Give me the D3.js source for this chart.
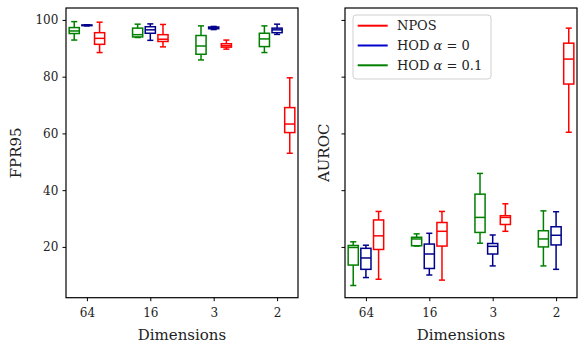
<!DOCTYPE html>
<html>
<head>
<meta charset="utf-8">
<script src="https://cdn.jsdelivr.net/npm/d3@7"></script>
<style>
  body { margin: 0; background: #fff; }
  svg { font-family: 'DejaVu Serif', serif; }
</style>
</head>
<body>
<svg id="chart" width="578" height="343"></svg>
<script>
// categories / series
const dims = ['64', '16', '3', '2']
const methods = ['HOD α=0.1', 'HOD α=0', 'NPOS']
const methodColors = ['#008000', '#00008b', '#ff0000']
const methodOffsets = [-0.2, 0, 0.2]

// box stats per dimension: [lowWhisker, q1, median, q3, highWhisker]
const fprHod01 = [[92.9, 95.2, 96.1, 97.3, 99.4], [93.8, 94.0, 94.8, 97.1, 98.5], [85.9, 87.9, 90.8, 94.5, 97.9], [88.5, 90.6, 93.3, 95.3, 97.9]]
const fprHod0 = [[97.9, 98.0, 98.1, 98.2, 98.3], [92.8, 95.3, 96.5, 97.6, 98.6], [96.6, 96.9, 97.2, 97.5, 97.7], [94.9, 95.5, 96.5, 97.1, 98.5]]
const fprNpos = [[88.5, 91.4, 93.5, 95.5, 99.2], [90.5, 92.4, 93.2, 94.8, 98.4], [89.7, 90.4, 90.9, 91.6, 92.9], [53.0, 60.3, 63.3, 69.1, 79.6]]

const aurocHod01 = [[6.4, 13.6, 19.8, 20.5, 21.8], [20.3, 20.4, 22.8, 23.4, 24.6], [21.3, 25.1, 30.4, 38.6, 45.9], [13.3, 20.0, 22.8, 25.7, 32.7]]
const aurocHod0 = [[9.2, 12.1, 16.1, 19.5, 20.6], [10.1, 12.4, 17.5, 21.0, 24.8], [13.3, 17.5, 20.2, 21.2, 24.2], [12.1, 20.7, 24.1, 27.1, 32.4]]
const aurocNpos = [[8.6, 19.1, 23.9, 29.5, 32.5], [8.3, 20.3, 25.5, 28.6, 32.5], [25.5, 27.9, 30.4, 31.0, 35.2], [60.4, 77.4, 86.2, 91.8, 97.1]]

const yTicks = [20, 40, 60, 80, 100]
const legendLabels = ['NPOS', 'HOD α = 0', 'HOD α = 0.1']
const legendColors = ['#ff0000', '#0000cc', '#008000']

const svg = d3.select('#chart')
const plotTop = 8
const plotBottom = 297.7

let y = d3.scaleLinear().domain([2.1, 104.2]).range([plotBottom, plotTop])

function panel (left, right, series, ylabel, showTickLabels) {
  let x = d3.scaleLinear().domain([0.67, 4.33]).range([left, right])
  let g = svg.append('g')

  // boxes
  series.forEach((s, mi) => {
    let col = methodColors[mi]
    s.forEach((st, i) => {
      let cx = x(i + 1 + methodOffsets[mi])
      let bw = x(0.16) - x(0)
      let cw = bw * 0.6
      let bg = g.append('g').attr('stroke', col).attr('stroke-width', 1.5).attr('fill', 'none')
      bg.append('line').attr('x1', cx).attr('x2', cx).attr('y1', y(st[0])).attr('y2', y(st[1]))
      bg.append('line').attr('x1', cx).attr('x2', cx).attr('y1', y(st[3])).attr('y2', y(st[4]))
      bg.append('line').attr('x1', cx - cw / 2).attr('x2', cx + cw / 2).attr('y1', y(st[0])).attr('y2', y(st[0]))
      bg.append('line').attr('x1', cx - cw / 2).attr('x2', cx + cw / 2).attr('y1', y(st[4])).attr('y2', y(st[4]))
      bg.append('rect').attr('x', cx - bw / 2).attr('width', bw)
        .attr('y', y(st[3])).attr('height', Math.max(0.5, y(st[1]) - y(st[3])))
      bg.append('line').attr('x1', cx - bw / 2).attr('x2', cx + bw / 2).attr('y1', y(st[2])).attr('y2', y(st[2]))
    })
  })

  // frame
  g.append('rect').attr('x', left).attr('y', plotTop).attr('width', right - left).attr('height', plotBottom - plotTop)
    .attr('fill', 'none').attr('stroke', '#000').attr('stroke-width', 1.2)

  let yAxis = d3.axisLeft(y).tickValues(yTicks).tickSize(3.5).tickSizeOuter(0)
  if (!showTickLabels) yAxis.tickFormat('')
  let ay = g.append('g').attr('transform', 'translate(' + left + ',0)').call(yAxis)
  let xAxis = d3.axisBottom(x).tickValues([1, 2, 3, 4]).tickFormat((d, i) => dims[i]).tickSize(3.5).tickSizeOuter(0)
  let ax = g.append('g').attr('transform', 'translate(0,' + plotBottom + ')').call(xAxis)
  ;[ax, ay].forEach(a => {
    a.select('.domain').remove()
    a.selectAll('line').attr('stroke-width', 1)
    a.selectAll('text').attr('font-family', 'DejaVu Serif').attr('font-size', '12px').attr('fill', '#222')
  })
  ax.selectAll('text').attr('dy', '1.05em')
  ay.selectAll('text').attr('dx', '-0.1em')

  g.append('text')
    .attr('x', (left + right) / 2).attr('y', 340)
    .attr('text-anchor', 'middle').attr('font-size', '15px').attr('fill', '#222')
    .text('Dimensions')
  g.append('text')
    .attr('transform', 'translate(' + (left - (showTickLabels ? 50 : 21)) + ',' + ((plotTop + plotBottom) / 2) + ') rotate(-90)')
    .attr('text-anchor', 'middle').attr('dy', '0.35em').attr('font-size', '15px').attr('fill', '#222')
    .text(ylabel)
  return g
}

panel(66, 298, [fprHod01, fprHod0, fprNpos], 'FPR95', true)
let right = panel(345, 577, [aurocHod01, aurocHod0, aurocNpos], 'AUROC', false)

// legend
let lg = right.append('g').attr('transform', 'translate(353,15)')
lg.append('rect').attr('width', 138).attr('height', 64).attr('rx', 3)
  .attr('fill', '#fff').attr('fill-opacity', 0.8).attr('stroke', '#d0d0d0').attr('stroke-width', 1)
legendLabels.forEach((l, i) => {
  let ly = 10.7 + i * 19.8
  lg.append('line').attr('x1', 4.7).attr('x2', 34.7).attr('y1', ly).attr('y2', ly)
    .attr('stroke', legendColors[i]).attr('stroke-width', 2)
  let t = lg.append('text').attr('x', 44).attr('y', ly).attr('dy', '0.35em')
    .attr('font-size', '13px').attr('fill', '#222')
  let m = l.match(/^(HOD) α = (.*)$/)
  if (m) {
    t.append('tspan').text('HOD ')
    t.append('tspan').attr('font-style', 'italic').text('α')
    t.append('tspan').text(' = ' + m[2])
  } else {
    t.text(l)
  }
})
</script>
</body>
</html>
